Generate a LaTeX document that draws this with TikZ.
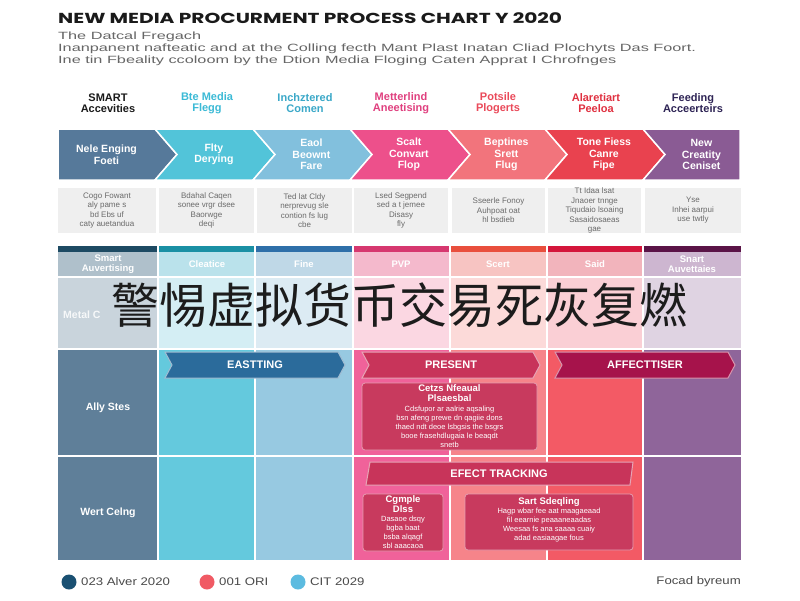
\documentclass[tikz,border=0pt]{standalone}
\usepackage{fontspec}
\setmainfont{Liberation Sans}
\newfontfamily\titlefont[FakeStretch=1.39]{Poppins}
\newfontfamily\subfont[FakeStretch=1.55]{Liberation Sans}
\newfontfamily\legfont[FakeStretch=1.2]{Liberation Sans}
\newfontfamily\cjkfont{Noto Sans CJK SC}

% chevron fills
\definecolor{c1}{HTML}{56799A}
\definecolor{c2}{HTML}{52C4D9}
\definecolor{c3}{HTML}{82C0DD}
\definecolor{c4}{HTML}{ED508B}
\definecolor{c5}{HTML}{F2747C}
\definecolor{c6}{HTML}{E9424F}
\definecolor{c7}{HTML}{8A5B94}
% column heading colours
\definecolor{t1}{HTML}{1A1A1A}
\definecolor{t2}{HTML}{3BBAD6}
\definecolor{t3}{HTML}{3AA8C8}
\definecolor{t4}{HTML}{E0407F}
\definecolor{t5}{HTML}{EA4A5A}
\definecolor{t6}{HTML}{E03040}
\definecolor{t7}{HTML}{2E2455}
% table stripes, heads, pale row, full rows
\definecolor{s1}{HTML}{1D4A63}
\definecolor{s2}{HTML}{1A90A4}
\definecolor{s3}{HTML}{2E6FA9}
\definecolor{s4}{HTML}{D6386F}
\definecolor{s5}{HTML}{E94F3D}
\definecolor{s6}{HTML}{D4163B}
\definecolor{s7}{HTML}{5A1447}
\definecolor{h1}{HTML}{AFC0CB}
\definecolor{h2}{HTML}{BAE2EB}
\definecolor{h3}{HTML}{BFD8E7}
\definecolor{h4}{HTML}{F4B9CC}
\definecolor{h5}{HTML}{F7C4C2}
\definecolor{h6}{HTML}{F2B4BC}
\definecolor{h7}{HTML}{CDB6D0}
\definecolor{p1}{HTML}{C9D4DC}
\definecolor{p2}{HTML}{D4EEF4}
\definecolor{p3}{HTML}{DCEBF3}
\definecolor{p4}{HTML}{FBD7E2}
\definecolor{p5}{HTML}{FCDAD9}
\definecolor{p6}{HTML}{FACFD5}
\definecolor{p7}{HTML}{DFD3E2}
\definecolor{f1}{HTML}{5F7F99}
\definecolor{f2}{HTML}{64C9DD}
\definecolor{f3}{HTML}{97C9E1}
\definecolor{f4}{HTML}{F0629A}
\definecolor{f5}{HTML}{F6848A}
\definecolor{f6}{HTML}{F35A65}
\definecolor{f7}{HTML}{8F659A}
% banners, boxes, legend
\definecolor{bnblue}{HTML}{2B6B9B}
\definecolor{bnred}{HTML}{C8345A}
\definecolor{bnwine}{HTML}{A6134B}
\definecolor{boxred}{HTML}{C83A5E}
\definecolor{notegray}{HTML}{EFEFEF}
\definecolor{notetxt}{HTML}{6A6A6A}
\definecolor{subgray}{HTML}{666666}
\definecolor{legtxt}{HTML}{4A4A4A}
\definecolor{lg1}{HTML}{1A5072}
\definecolor{lg2}{HTML}{F05A64}
\definecolor{lg3}{HTML}{5CBBE0}
\definecolor{cjkblack}{HTML}{1C1C1C}

\begin{document}
\begin{tikzpicture}[x=1pt,y=-1pt,
    every node/.style={inner sep=0pt},
    headtext/.style={font=\bfseries\fontsize{11}{11.5}\selectfont,align=center},
    chevtext/.style={text=white,font=\bfseries\fontsize{10.5}{11.5}\selectfont,align=center},
    notetext/.style={text=notetxt,font=\fontsize{8}{9.5}\selectfont,align=center},
    celltext/.style={text=white,font=\bfseries\fontsize{9.5}{10}\selectfont,align=center},
    rowlabel/.style={text=white,font=\bfseries\fontsize{10.5}{12}\selectfont},
    banner/.style={draw=#1!45!white,line width=1pt,fill=#1},
    bannertext/.style={text=white,font=\bfseries\fontsize{11}{12}\selectfont},
    redbox/.style={fill=boxred,draw=boxred!50!white,line width=0.8pt,rounded corners=3pt},
    boxhead/.style={text=white,font=\bfseries\fontsize{9.5}{10}\selectfont,align=center},
    boxbody/.style={text=white,font=\fontsize{7.5}{9}\selectfont,align=center},
    legtext/.style={text=legtxt,font=\legfont\fontsize{11}{12}\selectfont,anchor=west}]

  \useasboundingbox (0,0) rectangle (800,600);
  \fill[white] (0,0) rectangle (800,600);

  % heading
  \node[anchor=west,font=\titlefont\bfseries\fontsize{14.5}{16}\selectfont,text=t1] (title) at (58,18)
    {NEW MEDIA PROCURMENT PROCESS CHART Y 2020};
  \node[anchor=north west,align=left,text=subgray,font=\subfont\fontsize{10.5}{11.6}\selectfont] (intro) at (58,32)
    {The Datcal Fregach\\
     Inanpanent nafteatic and at the Colling fecth Mant Plast Inatan Cliad Plochyts Das Foort.\\
     Ine tin Fbeality ccoloom by the Dtion Media Floging Caten Apprat I Chrofnges};

  % column headings
  \foreach \x/\c/\t [count=\i] in {108/t1/{SMART\\Accevities}, 207/t2/{Bte Media\\Flegg},
      305/t3/{Inchztered\\Comen}, 401/t4/{Metterlind\\Aneetising}, 498/t5/{Potsile\\Plogerts},
      596/t6/{Alaretiart\\Peeloa}, 693/t7/{Feeding\\Acceerteirs}}
    \node[headtext,text=\c] (head\i) at (\x,103) {\t};

  % process chevrons
  \foreach \l/\r/\t [count=\i] in {58/155/{Nele Enging\\Foeti}, 155/253/{Flty\\Derying},
      253/350/{Eaol\\Beownt\\Fare}, 350/448/{Scalt\\Convart\\Flop}, 448/545/{Beptines\\Srett\\Flug},
      545/643/{Tone Fiess\\Canre\\Fipe}, 643/740/{New\\Creatity\\Ceniset}}
  {
    \pgfmathsetmacro\nl{(\i>1)*22}
    \pgfmathsetmacro\nr{(\i<7)*22}
    \draw[fill=c\i,draw=white,line width=1.5pt,line join=miter]
      (\l,129) -- (\r,129) -- (\r+\nr,154.5) -- (\r,180) -- (\l,180) -- (\l+\nl,154.5) -- cycle;
    \node[chevtext] (step\i) at ({(\l+\r)/2+0.45*\nl},154.5) {\t};
  }

  % notes under chevrons
  \foreach \l/\r/\t [count=\i] in {58/156/{Cogo Fowant\\aly pame s\\bd Ebs uf\\caty auetandua},
      159/254/{Bdahal Caqen\\sonee vrgr dsee\\Baorwge\\deqi},
      257/352/{Ted lat Cldy\\nerprevug sle\\contion fs lug\\cbe},
      354/448/{Lsed Segpend\\sed a t jemee\\Disasy\\fly},
      452/545/{Sseerle Fonoy\\Auhpoat oat\\hl bsdieb},
      548/641/{Tt Idaa lsat\\Jnaoer tnnge\\Tiqudaio lsoaing\\Sasaidosaeas\\gae},
      645/741/{Yse\\Inhei aarpui\\use twtly}}
  {
    \fill[notegray] (\l,188) rectangle (\r,233);
    \node[notetext] (note\i) at ({(\l+\r)/2},210.5) {\t};
  }

  % table columns
  \foreach \l/\r [count=\i] in {58/158,158/255,255/353,353/450,450/547,547/643,643/741}
  {
    \fill[s\i] (\l,246) rectangle (\r,252);
    \fill[h\i] (\l,252) rectangle (\r,277);
    \fill[p\i] (\l,277) rectangle (\r,349);
    \fill[f\i] (\l,349) rectangle (\r,560);
  }
  \foreach \x in {158,255,353,450,547,643}
    \draw[white,line width=1.2pt] (\x,246) -- (\x,560);
  \foreach \y in {277,349,456}
    \draw[white,line width=1.2pt] (58,\y) -- (741,\y);

  % table heads
  \foreach \x/\t [count=\i] in {108/{Smart\\Auvertising}, 207/Cleatice, 304/Fine, 401/PVP,
      498/Scert, 595/Said, 692/{Snart\\Auvettaies}}
    \node[celltext] (cell\i) at (\x,264.5) {\t};

  % row labels
  \node[rowlabel,anchor=west,opacity=0.85] (rowa) at (63,315) {Metal C};
  \node[rowlabel] (rowb) at (108,408) {Ally Stes};
  \node[rowlabel] (rowc) at (108,513) {Wert Celng};

  % stage banners
  \foreach \l/\r/\c/\t [count=\i] in {165/345/bnblue/EASTTING, 362/540/bnred/PRESENT,
      555/735/bnwine/AFFECTTISER}
  {
    \draw[banner=\c] (\l,352) -- (\r-7,352) -- (\r,365) -- (\r-7,378) -- (\l,378) -- (\l+7,365) -- cycle;
    \node[bannertext] (stage\i) at ({(\l+\r)/2},365) {\t};
  }

  % present box
  \draw[redbox] (362,383) rectangle (537,450);
  \node[boxhead] (prehead) at (449.5,393) {Cetzs Nfeaual\\Plsaesbal};
  \node[boxbody] (prebody) at (449.5,427) {Cdsfupor ar aalrie aqsaling\\bsn afeng prewe dn qagiie dons\\
    thaed ndt deoe lsbgsis the bsgrs\\booe frasehdlugaia le beaqdt\\snetb};

  % effect tracking
  \draw[banner=bnred] (370,462) -- (633,462) -- (630,485) -- (366,485) -- cycle;
  \node[bannertext] (track) at (499,473.5) {EFECT TRACKING};
  \draw[redbox] (363,494) rectangle (443,551);
  \node[boxhead] (cmphead) at (403,504) {Cgmple\\Dlss};
  \node[boxbody] (cmpbody) at (403,532) {Dasaoe dsqy\\bgba baat\\bsba alqagf\\sbl aaacaoa};
  \draw[redbox] (465,494) rectangle (633,550);
  \node[boxhead] (sarthead) at (549,502) {Sart Sdeqling};
  \node[boxbody] (sartbody) at (549,525) {Hagp wbar fee aat maagaeaad\\fil eearnie peaaaneaadas\\
    Weesaa fs ana saaaa cuaiy\\adad easiaagae fous};

  % overlay line
  \node[font=\cjkfont\fontsize{48}{48}\selectfont,text=cjkblack] (warn) at (399.5,305)
    {警惕虚拟货币交易死灰复燃};

  % legend
  \fill[lg1] (69,582) circle (7.5);
  \node[legtext] (leg1) at (81,582) {023 Alver 2020};
  \fill[lg2] (207,582) circle (7.5);
  \node[legtext] (leg2) at (219,582) {001 ORI};
  \fill[lg3] (298,582) circle (7.5);
  \node[legtext] (leg3) at (310,582) {CIT 2029};
  \node[legtext,anchor=east] (credit) at (741,582) {Focad byreum};
\end{tikzpicture}
\end{document}
